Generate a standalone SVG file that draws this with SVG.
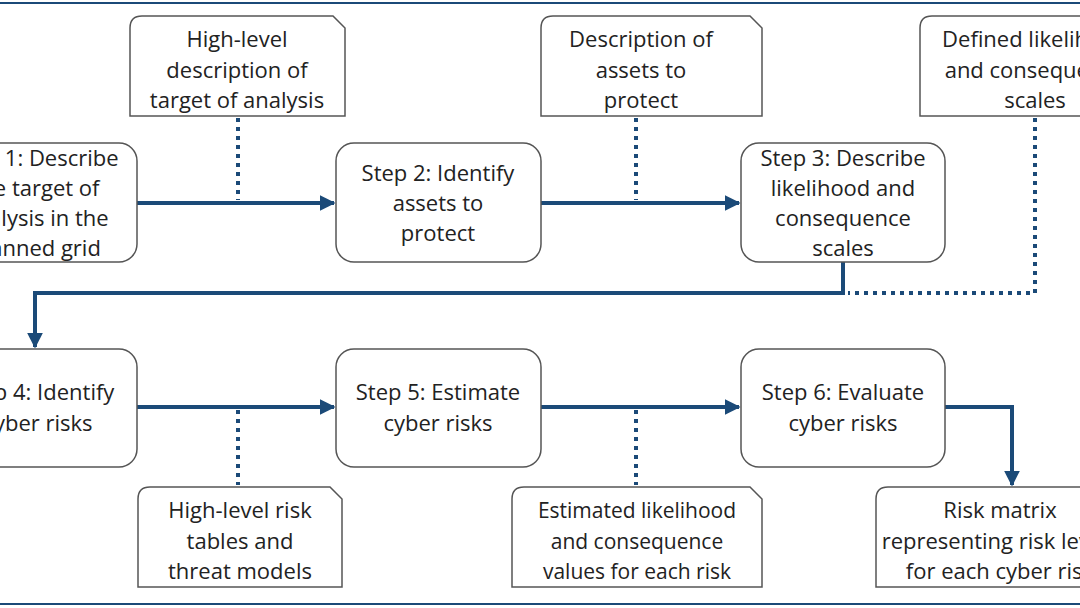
<svg xmlns="http://www.w3.org/2000/svg" width="1080" height="608" viewBox="0 0 1080 608">
<defs>
<style>
text{font-family:"Open Sans","Liberation Sans",sans-serif;font-size:22px;fill:#222;text-anchor:middle}
.sm{font-size:21px}
.box{fill:#fff;stroke:#555;stroke-width:1.5}
.flow{fill:none;stroke:#1b4a78;stroke-width:4}
.dot{fill:none;stroke:#1b4a78;stroke-width:4;stroke-dasharray:4 5}
</style>
<marker id="ah" viewBox="0 0 10 10" refX="9" refY="5" markerWidth="4" markerHeight="4" orient="auto" markerUnits="strokeWidth"><path d="M0,0 L10,5 L0,10 Z" fill="#1b4a78"/></marker>
</defs>
<rect width="1080" height="608" fill="#fff"/>
<line x1="0" y1="3" x2="1080" y2="3" stroke="#1b4a78" stroke-width="2"/>
<line x1="0" y1="604" x2="1080" y2="604" stroke="#1b4a78" stroke-width="2"/>
<g id="connectors">
<path class="flow" d="M137,203 H334" marker-end="url(#ah)"/>
<path class="flow" d="M541,203 H739" marker-end="url(#ah)"/>
<path class="flow" d="M843,262 V293 H35 V347" marker-end="url(#ah)"/>
<path class="flow" d="M137,407 H334" marker-end="url(#ah)"/>
<path class="flow" d="M541,407 H739" marker-end="url(#ah)"/>
<path class="flow" d="M945,407 H1012 V485" marker-end="url(#ah)"/>
<path class="dot" d="M238,118 V200"/>
<path class="dot" d="M636,118 V200"/>
<path class="dot" d="M1035,118 V293 H848"/>
<path class="dot" d="M238,410 V485"/>
<path class="dot" d="M636,410 V485"/>
</g>
<g id="doc1"><path class="box" d="M130,116 V28 Q130,16 142,16 H333 L345,28 V116 Z"/><text x="237" y="47">High-level</text><text x="237" y="78">description of</text><text x="237" y="108">target of analysis</text></g>
<g id="doc2"><path class="box" d="M541,116 V28 Q541,16 553,16 H750 L762,28 V116 Z"/><text x="641" y="47">Description of</text><text x="641" y="78">assets to</text><text x="641" y="108">protect</text></g>
<g id="doc3"><path class="box" d="M920,116 V28 Q920,16 932,16 H1090 V116 Z"/><text x="1035" y="47">Defined likelihood</text><text x="1035" y="78">and consequence</text><text x="1035" y="108">scales</text></g>
<g id="step1"><rect class="box" x="-60" y="143" width="197" height="119" rx="18"/><text x="36" y="166">Step 1: Describe</text><text x="36" y="196">the target of</text><text x="36" y="226">analysis in the</text><text x="36" y="256">planned grid</text></g>
<g id="step2"><rect class="box" x="336" y="143" width="205" height="119" rx="18"/><text x="438" y="181">Step 2: Identify</text><text x="438" y="211">assets to</text><text x="438" y="241">protect</text></g>
<g id="step3"><rect class="box" x="741" y="143" width="204" height="119" rx="18"/><text x="843" y="166">Step 3: Describe</text><text x="843" y="196">likelihood and</text><text x="843" y="226">consequence</text><text x="843" y="256">scales</text></g>
<g id="step4"><rect class="box" x="-60" y="349" width="197" height="118" rx="18"/><text x="38" y="400">Step 4: Identify</text><text x="38" y="431">cyber risks</text></g>
<g id="step5"><rect class="box" x="336" y="349" width="205" height="118" rx="18"/><text x="438" y="400">Step 5: Estimate</text><text x="438" y="431">cyber risks</text></g>
<g id="step6"><rect class="box" x="741" y="349" width="204" height="118" rx="18"/><text x="843" y="400">Step 6: Evaluate</text><text x="843" y="431">cyber risks</text></g>
<g id="doc4"><path class="box" d="M138,587 V499 Q138,487 150,487 H330 L342,499 V587 Z"/><text x="240" y="518">High-level risk</text><text x="240" y="549">tables and</text><text x="240" y="579">threat models</text></g>
<g id="doc5"><path class="box" d="M512,587 V499 Q512,487 524,487 H750 L762,499 V587 Z"/><text class="sm" x="637" y="518">Estimated likelihood</text><text class="sm" x="637" y="549">and consequence</text><text class="sm" x="637" y="579">values for each risk</text></g>
<g id="doc6"><path class="box" d="M876,587 V499 Q876,487 888,487 H1090 V587 Z"/><text x="1000" y="518">Risk matrix</text><text x="1000" y="549">representing risk levels</text><text x="1000" y="579">for each cyber risk</text></g>
</svg>
